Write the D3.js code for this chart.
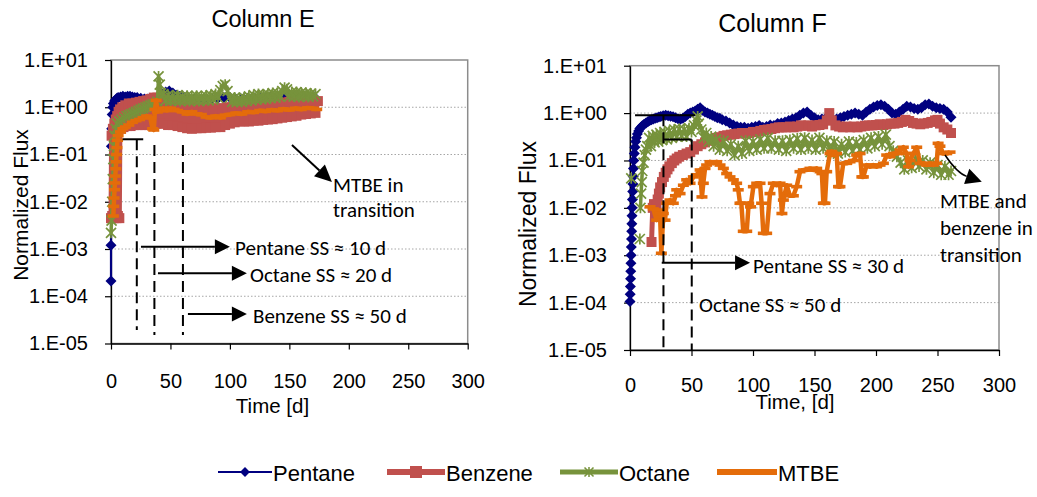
<!DOCTYPE html>
<html>
<head>
<meta charset="utf-8">
<script src="https://cdn.jsdelivr.net/npm/d3@7"></script>
<style>
  body { margin: 0; background: #fff; }
  svg { display: block; }
</style>
</head>
<body>
<svg id="chart" width="1037" height="497"></svg>
<script>
// ---- axis ticks ----
const xTickValues = [0, 50, 100, 150, 200, 250, 300];
const yTickValues = [1e-5, 1e-4, 1e-3, 1e-2, 1e-1, 1, 10];
const yTickLabels = ["1.E-05", "1.E-04", "1.E-03", "1.E-02", "1.E-01", "1.E+00", "1.E+01"];
const seriesNames = ["Pentane", "Benzene", "Octane", "MTBE"];

// ---- Column E: [day, normalized flux] ----
const ePentane = [[0,2.1e-4],[0,1.2e-3],[0.3,0.15],[0.6,0.35],[1,0.7],[1.5,1.0],[2,1.2],[3,1.35],[4,1.45],[5,1.55],[6,1.6],[8,1.65],[10,1.7],[12,1.65],[14,1.7],[16,1.7],[18,1.65],[20,1.6],[22,1.6],[25,1.55],[28,1.5],[31,1.5],[34,1.45],[37,1.5],[40,1.6],[43,1.9],[46,2.1],[49,2.2],[52,2.0],[55,1.8],[58,1.7],[62,1.6],[66,1.5],[70,1.5],[75,1.45],[80,1.5],[85,1.5],[90,1.55],[95,1.6],[100,1.6],[105,1.5],[110,1.5],[115,1.55],[120,1.6],[125,1.6],[130,1.65],[135,1.7],[140,1.7],[145,1.75],[150,1.8],[155,1.8],[160,1.75],[165,1.8],[170,1.75]];
const eBenzene = [[0,0.0045],[0.5,0.25],[1,0.005],[1.6,0.35],[2.2,0.0045],[2.8,0.45],[3.4,0.005],[4,0.55],[4.6,0.0045],[5.2,0.65],[5.8,0.005],[6.4,0.8],[7,0.0045],[7.6,0.9],[8.5,0.35],[9.5,1.0],[10.5,0.38],[12,1.1],[13.5,0.4],[15,1.2],[16.5,0.4],[18,1.2],[19.5,0.42],[21,1.25],[22.5,0.42],[24,1.3],[25.5,0.42],[27,1.35],[28.5,0.42],[30,1.4],[31.5,0.42],[33,1.5],[34.5,0.42],[36,1.6],[37.5,0.45],[39,1.6],[40.5,0.45],[42,1.5],[44,0.45],[46,1.4],[48,0.42],[50,1.35],[52,0.42],[54,1.25],[56,0.4],[58,1.2],[60,0.38],[62,1.15],[64,0.36],[66,1.1],[68,0.35],[70,1.05],[72,0.36],[74,1.0],[76,0.36],[78,1.0],[80,0.37],[82,0.95],[84,0.37],[86,0.95],[88,0.38],[90,0.95],[92,0.38],[94,0.95],[96,0.42],[98,1.0],[100,0.45],[102,1.0],[104,0.48],[106,1.05],[108,0.5],[110,1.05],[112,0.5],[114,1.1],[116,0.5],[118,1.1],[120,0.52],[122,1.1],[124,0.52],[126,1.15],[128,0.54],[130,1.15],[132,0.55],[134,1.2],[136,0.56],[138,1.2],[140,0.58],[142,1.25],[144,0.6],[146,1.25],[148,0.62],[150,1.3],[152,0.64],[154,1.3],[156,0.66],[158,1.35],[160,0.7],[162,1.35],[164,0.72],[166,1.4],[168,0.74],[170,1.4],[172,0.76],[174,1.35]];
const eOctane = [[0,0.0022],[0.5,0.004],[1,0.01],[1.5,0.03],[2,0.08],[2.5,0.15],[3,0.25],[4,0.35],[5,0.45],[7,0.5],[9,0.55],[11,0.6],[13,0.65],[15,0.68],[17,0.72],[19,0.75],[21,0.8],[23,0.85],[25,0.9],[27,0.95],[29,1.0],[31,1.05],[33,1.1],[35,1.15],[37,1.2],[39,1.3],[40,4.5],[41,3.0],[42,2.0],[44,1.9],[46,1.4],[48,1.8],[50,1.35],[52,1.75],[54,1.4],[56,1.8],[58,1.35],[60,1.7],[62,1.4],[64,1.75],[66,1.35],[68,1.7],[70,1.4],[72,1.75],[74,1.35],[76,1.7],[78,1.4],[80,1.75],[82,1.4],[84,1.8],[86,1.45],[88,1.9],[90,1.6],[92,2.3],[94,2.8],[96,3.0],[98,2.2],[100,1.6],[102,1.3],[104,1.6],[106,1.3],[108,1.55],[110,1.3],[112,1.6],[114,1.35],[116,1.7],[118,1.4],[120,1.8],[122,1.45],[124,1.9],[126,1.5],[128,1.85],[130,1.5],[132,1.9],[134,1.55],[136,2.0],[138,1.6],[140,2.0],[142,1.65],[144,2.2],[146,2.6],[148,2.4],[150,1.7],[152,2.1],[154,1.7],[156,2.1],[158,1.65],[160,2.05],[162,1.7],[164,2.0],[166,1.65],[168,1.95],[170,1.7],[172,1.9]];
const eMTBE = [[2,0.005],[2.3,0.008],[2.6,0.012],[3,0.018],[3.3,0.025],[3.6,0.035],[4,0.05],[4.3,0.07],[4.6,0.1],[5,0.14],[5.5,0.2],[6,0.25],[8,0.3],[10,0.35],[12,0.38],[15,0.42],[18,0.48],[21,0.52],[24,0.55],[27,0.6],[30,0.65],[33,0.6],[35,0.35],[36,0.33],[37,0.9],[38,1.4],[39,0.8],[41,0.85],[44,0.95],[47,0.85],[50,0.95],[53,0.9],[56,0.85],[60,0.8],[64,0.72],[68,0.8],[72,0.72],[76,0.7],[80,0.62],[84,0.6],[88,0.65],[92,0.6],[96,0.68],[100,0.7],[105,0.75],[110,0.72],[115,0.8],[120,0.78],[125,0.85],[130,0.82],[135,0.88],[140,0.85],[145,0.92],[150,0.88],[155,0.95],[160,0.9],[165,0.97],[170,0.95],[173,0.9]];

// ---- Column F: [day, normalized flux] ----
const fPentane = [[0,1.05e-4],[0.15,1.5e-4],[0.3,2.2e-4],[0.45,3.2e-4],[0.6,4.6e-4],[0.75,6.8e-4],[0.9,1e-3],[1.05,1.5e-3],[1.2,2.2e-3],[1.35,3.2e-3],[1.5,4.6e-3],[1.65,6.8e-3],[1.8,0.01],[2,0.015],[2.2,0.022],[2.4,0.032],[2.6,0.046],[2.8,0.068],[3.1,0.1],[3.5,0.14],[4,0.19],[4.6,0.25],[5.3,0.3],[6,0.36],[7,0.42],[8,0.47],[9,0.5],[10,0.54],[11.5,0.58],[13,0.62],[14.5,0.66],[16,0.7],[17.5,0.72],[19,0.75],[20.5,0.78],[22,0.8],[23.5,0.83],[25,0.85],[27,0.88],[29,0.9],[31,0.88],[33,0.86],[35,0.84],[37,0.8],[39,0.76],[41,0.74],[43,0.78],[45,0.85],[47,0.95],[49,1.0],[51,1.05],[53,1.1],[55,1.2],[57,1.3],[59,1.15],[61,1.05],[63,1.0],[65,0.95],[67,0.9],[69,0.85],[71,0.8],[73,0.78],[75,0.72],[78,0.68],[81,0.62],[84,0.56],[87,0.52],[90,0.5],[93,0.5],[96,0.48],[99,0.5],[102,0.52],[105,0.55],[108,0.5],[111,0.52],[114,0.56],[117,0.55],[120,0.6],[123,0.62],[126,0.65],[129,0.7],[132,0.75],[135,0.8],[138,0.9],[141,1.0],[144,1.05],[147,0.9],[150,0.8],[153,0.72],[156,0.75],[159,0.78],[162,0.74],[165,0.72],[168,0.75],[171,0.8],[174,0.85],[177,0.9],[180,0.95],[183,1.0],[186,0.95],[189,0.9],[192,1.05],[195,1.2],[198,1.35],[201,1.45],[204,1.5],[207,1.4],[210,1.2],[213,1.0],[216,0.95],[219,1.05],[222,1.2],[225,1.4],[228,1.35],[231,1.25],[234,1.2],[237,1.3],[240,1.5],[243,1.55],[246,1.4],[249,1.3],[252,1.25],[255,1.2],[258,1.05],[261,0.82]];
const fBenzene = [[17.5,1.9e-3],[18.5,0.01],[19.5,0.012],[20.5,0.008],[21.5,0.011],[22.5,0.015],[23.5,0.02],[24.5,0.027],[26,0.035],[27.5,0.045],[29,0.055],[30.5,0.065],[32,0.075],[34,0.088],[36,0.1],[38,0.11],[40,0.12],[43,0.13],[46,0.14],[49,0.15],[52,0.17],[55,0.2],[58,0.22],[61,0.24],[64,0.26],[67,0.28],[70,0.3],[73,0.31],[76,0.33],[79,0.34],[82,0.35],[85,0.36],[88,0.37],[91,0.38],[94,0.37],[97,0.38],[100,0.4],[103,0.4],[106,0.42],[109,0.44],[112,0.45],[115,0.46],[118,0.48],[121,0.5],[124,0.5],[127,0.5],[130,0.52],[133,0.5],[136,0.52],[139,0.55],[142,0.54],[145,0.55],[148,0.52],[151,0.55],[154,0.56],[157,0.58],[160,0.7],[162,1.0],[164,0.7],[167,0.55],[170,0.52],[173,0.5],[176,0.52],[179,0.5],[182,0.52],[185,0.5],[188,0.52],[191,0.54],[194,0.55],[197,0.55],[200,0.56],[203,0.58],[206,0.56],[209,0.58],[212,0.6],[215,0.6],[218,0.62],[221,0.65],[224,0.72],[227,0.68],[230,0.62],[233,0.6],[236,0.58],[239,0.6],[242,0.62],[245,0.65],[248,0.7],[250,0.72],[252,0.6],[255,0.5],[258,0.45],[261,0.38]];
const fOctane = [[1,0.042],[2,null],[8,0.0022],[8.3,null],[8.5,0.01],[9,0.02],[9.5,0.035],[10,0.06],[11,0.09],[12,0.13],[13,0.17],[14,0.2],[15.5,0.3],[17,0.2],[18.5,0.33],[20,0.24],[21.5,0.35],[23,0.25],[24.5,0.38],[26,0.27],[28,0.4],[30,0.28],[32,0.42],[34,0.3],[36,0.45],[38,0.32],[40,0.46],[42,0.33],[44,0.45],[46,0.32],[48,0.48],[50,0.4],[52,0.55],[54,0.7],[55,0.85],[56,0.6],[58,0.45],[60,0.3],[62,0.38],[64,0.25],[66,0.32],[68,0.2],[70,0.28],[73,0.17],[76,0.26],[79,0.16],[82,0.22],[85,0.13],[88,0.2],[91,0.14],[94,0.26],[97,0.16],[100,0.25],[103,0.17],[106,0.28],[109,0.18],[112,0.3],[115,0.18],[118,0.26],[121,0.17],[124,0.26],[127,0.16],[130,0.27],[133,0.18],[136,0.29],[139,0.17],[142,0.3],[145,0.18],[148,0.27],[151,0.17],[154,0.3],[157,0.18],[160,0.26],[163,0.15],[166,0.25],[169,0.14],[172,0.22],[175,0.15],[178,0.25],[181,0.16],[184,0.24],[187,0.17],[190,0.27],[193,0.18],[196,0.3],[199,0.2],[202,0.32],[205,0.22],[208,0.35],[211,0.2],[214,0.16],[217,0.12],[220,0.09],[223,0.065],[226,0.1],[229,0.07],[232,0.11],[235,0.075],[238,0.1],[241,0.065],[244,0.09],[247,0.055],[250,0.08],[253,0.05],[256,0.075],[259,0.05],[261,0.06]];
const fMTBE = [[16.3,0.0105],[18.9,0.0095],[21.7,0.0055],[22.5,0.009],[24.4,0.0076],[25.5,0.0011],[27.1,0.0076],[28.5,0.0055],[29.8,0.0125],[32.5,0.0146],[35.2,0.0125],[37,0.018],[38,0.024],[40.7,0.02],[43.4,0.03],[46.1,0.039],[48.8,0.033],[51.5,0.045],[54.2,0.05],[57,0.063],[58.5,0.017],[59.6,0.033],[61,0.068],[62.3,0.08],[65,0.094],[67.8,0.087],[70.5,0.094],[73.2,0.08],[75.9,0.068],[78.6,0.053],[81.3,0.045],[84,0.039],[86.7,0.033],[88,0.024],[89.4,0.0125],[90.5,0.0125],[92.1,0.0032],[94.9,0.0032],[96.5,0.0125],[98,0.0105],[100.3,0.028],[103,0.033],[105.7,0.033],[107,0.0125],[108.4,0.0029],[111.1,0.0029],[113.8,0.02],[116.5,0.033],[119.2,0.03],[122,0.033],[123.5,0.0076],[124.7,0.0146],[127.4,0.03],[130,0.018],[132.8,0.018],[135.5,0.028],[138.2,0.058],[140.9,0.063],[143.6,0.063],[146.3,0.068],[149.1,0.063],[151.8,0.068],[154.5,0.058],[156,0.053],[157.2,0.0125],[158.5,0.0125],[159.9,0.058],[162.6,0.14],[164,0.155],[165.3,0.13],[168,0.14],[169.5,0.028],[170.7,0.028],[173.4,0.087],[176.2,0.087],[178.9,0.094],[181.6,0.1],[184.3,0.13],[187,0.14],[188.5,0.045],[189.7,0.045],[192.4,0.08],[195.1,0.074],[197.8,0.08],[200.5,0.074],[203.3,0.08],[206,0.087],[208.7,0.13],[211.4,0.12],[214.1,0.14],[216.8,0.14],[219.5,0.166],[222.2,0.19],[224.9,0.14],[226.5,0.074],[227.6,0.1],[230.4,0.14],[233.1,0.19],[235.8,0.087],[238.5,0.087],[241.2,0.08],[243.9,0.087],[246.6,0.08],[249.3,0.087],[250.5,0.23],[252,0.2],[254.7,0.14],[257.5,0.14],[260.2,0.15]];

// ---- series styling ----
const seriesStyle = {
  Pentane: { color: "#000080", width: 2.2, marker: "diamond" },
  Benzene: { color: "#C0504D", width: 5,   marker: "square" },
  Octane:  { color: "#77933C", width: 3.5, marker: "star" },
  MTBE:    { color: "#E46C0A", width: 4.5, marker: "dash" }
};
const markerPath = {
  diamond: "M0,-5.5L5.5,0L0,5.5L-5.5,0Z",
  square: "M-5,-5H5V5H-5Z",
  star: "M-5,-5L5,5M-5,5L5,-5M0,-5.5V5.5",
  dash: "M-5.5,-1.8H5.5V1.8H-5.5Z"
};

const sansFont = "'Liberation Sans', Arial, Helvetica, sans-serif";
const noteFont = "Carlito, Calibri, Lato, 'Open Sans', sans-serif";

const panels = [
  {
    title: "Column E", titleX: 263, titleY: 27, titleSize: 23.5,
    x0: 111, x1: 467.7, yTop: 60, yBot: 343.5,
    xTickPad: 24, xLabel: "Time [d]", xLabelX: 272.5, xLabelY: 413,
    yLabelX: 28, yLabelY: 205, yLabelSize: 21,
    series: { Pentane: ePentane, Benzene: eBenzene, Octane: eOctane, MTBE: eMTBE }
  },
  {
    title: "Column F", titleX: 772.5, titleY: 32, titleSize: 25,
    x0: 630, x1: 999, yTop: 65.7, yBot: 350,
    xTickPad: 21.5, xLabel: "Time, [d]", xLabelX: 795, xLabelY: 409,
    yLabelX: 536, yLabelY: 224, yLabelSize: 23,
    series: { Pentane: fPentane, Benzene: fBenzene, Octane: fOctane, MTBE: fMTBE }
  }
];

const svg = d3.select("#chart");
svg.append("rect").attr("width", 1037).attr("height", 497).attr("fill", "#fff");

function arrowHead(g, x1, y1, x2, y2, len, half) {
  const a = Math.atan2(y2 - y1, x2 - x1);
  const bx = x2 - len * Math.cos(a), by = y2 - len * Math.sin(a);
  const px = -Math.sin(a) * half, py = Math.cos(a) * half;
  g.append("path")
    .attr("d", `M${x2},${y2}L${bx + px},${by + py}L${bx - px},${by - py}Z`)
    .attr("fill", "#000");
  return [bx, by];
}
function arrow(g, x1, y1, x2, y2, len, half, w) {
  const [bx, by] = arrowHead(g, x1, y1, x2, y2, len, half);
  g.append("line").attr("x1", x1).attr("y1", y1).attr("x2", bx).attr("y2", by)
    .attr("stroke", "#000").attr("stroke-width", w || 2);
}
function note(g, x, y, lines, size, lh) {
  const t = g.append("text").attr("x", x).attr("y", y)
    .attr("font-family", noteFont).attr("font-size", size).attr("fill", "#000");
  lines.forEach((s, i) => t.append("tspan").attr("x", x).attr("dy", i ? lh : 0).text(s));
}

panels.forEach(p => {
  const g = svg.append("g");
  const x = d3.scaleLinear().domain([0, 300]).range([p.x0, p.x1]);
  const y = d3.scaleLog().domain([1e-5, 10]).range([p.yBot, p.yTop]);
  p.x = x; p.y = y;

  // horizontal gridlines
  g.selectAll("line.grid").data(yTickValues.slice(1, -1)).join("line")
    .attr("x1", p.x0).attr("x2", p.x1)
    .attr("y1", d => y(d)).attr("y2", d => y(d))
    .attr("stroke", "#a6a6a6").attr("stroke-width", 1).attr("stroke-dasharray", "1.5,2");

  // plot-area frame
  g.append("rect").attr("x", p.x0).attr("y", p.yTop)
    .attr("width", p.x1 - p.x0).attr("height", p.yBot - p.yTop)
    .attr("fill", "none").attr("stroke", "#8c8c8c").attr("stroke-width", 1.5);

  // axes
  const ya = g.append("g").attr("transform", `translate(${p.x0},0)`)
    .call(d3.axisLeft(y).tickValues(yTickValues).tickFormat((d, i) => yTickLabels[i])
      .tickSize(6).tickSizeOuter(0).tickPadding(17));
  const xa = g.append("g").attr("transform", `translate(0,${p.yBot})`)
    .call(d3.axisBottom(x).tickValues(xTickValues).tickFormat(d3.format("d"))
      .tickSize(6).tickSizeOuter(0).tickPadding(p.xTickPad));
  [ya, xa].forEach(a => {
    a.select(".domain").attr("stroke", "#000").attr("stroke-width", 1.3);
    a.selectAll(".tick line").attr("stroke", "#000").attr("stroke-width", 1.2);
    a.selectAll(".tick text").attr("font-family", sansFont).attr("font-size", 20).attr("fill", "#000");
  });

  // titles
  g.append("text").attr("x", p.titleX).attr("y", p.titleY).attr("text-anchor", "middle")
    .attr("font-family", sansFont).attr("font-size", p.titleSize).text(p.title);
  g.append("text").attr("x", p.xLabelX).attr("y", p.xLabelY).attr("text-anchor", "middle")
    .attr("font-family", sansFont).attr("font-size", 20.5).text(p.xLabel);
  g.append("text").attr("transform", `translate(${p.yLabelX},${p.yLabelY}) rotate(-90)`)
    .attr("text-anchor", "middle").attr("font-family", sansFont)
    .attr("font-size", p.yLabelSize).text("Normalized Flux");

  // series, drawn in legend order so later ones sit on top
  const line = d3.line().defined(d => d[1] != null).x(d => x(d[0])).y(d => y(d[1]));
  seriesNames.forEach(name => {
    const st = seriesStyle[name];
    const data = p.series[name];
    const sg = g.append("g");
    sg.append("path").attr("d", line(data)).attr("fill", "none")
      .attr("stroke", st.color).attr("stroke-width", st.width).attr("stroke-linejoin", "round");
    const pts = sg.selectAll("path.m").data(data.filter(d => d[1] != null)).join("path")
      .attr("d", markerPath[st.marker])
      .attr("transform", d => `translate(${x(d[0])},${y(d[1])})`);
    if (st.marker === "star") pts.attr("fill", "none").attr("stroke", st.color).attr("stroke-width", 1.7);
    else pts.attr("fill", st.color);
  });
});

// ---- annotations, Column E ----
{
  const p = panels[0], x = p.x, y = p.y, g = svg.append("g");
  const dash = "11,6";
  g.append("line").attr("x1", x(9.8)).attr("x2", x(27.1)).attr("y1", y(0.21)).attr("y2", y(0.21))
    .attr("stroke", "#000").attr("stroke-width", 2);
  [[21.7, 0.21, 1.93e-5], [36.5, 0.159, 1.51e-5], [60.5, 0.159, 1.51e-5]].forEach(([d, a, b]) =>
    g.append("line").attr("x1", x(d)).attr("x2", x(d)).attr("y1", y(a)).attr("y2", y(b))
      .attr("stroke", "#000").attr("stroke-width", 2).attr("stroke-dasharray", dash));
  arrow(g, x(25.2), y(1.12e-3), x(100), y(1.12e-3), 15, 7.5);
  arrow(g, x(39.5), y(3.06e-4), x(114.3), y(3.06e-4), 15, 7.5);
  arrow(g, x(64.7), y(4.2e-5), x(114.3), y(4.2e-5), 15, 7.5);
  arrow(g, x(152.2), y(0.159), x(185.8), y(0.0262), 17, 8);
  note(g, x(104.3), y(7.3e-4), ["Pentane SS \u2248 10 d"], 21, 0);
  note(g, x(116.9), y(2.03e-4), ["Octane SS \u2248 20 d"], 21, 0);
  note(g, x(119.4), y(2.72e-5), ["Benzene SS \u2248 50 d"], 21, 0);
  note(g, x(186.7), y(0.0161), ["MTBE in", "transition"], 21, 25);
}

// ---- annotations, Column F ----
{
  const p = panels[1], x = p.x, y = p.y, g = svg.append("g");
  const dash = "11,6";
  g.append("line").attr("x1", x(4.1)).attr("x2", x(52.8)).attr("y1", y(0.899)).attr("y2", y(0.899))
    .attr("stroke", "#000").attr("stroke-width", 2);
  g.append("line").attr("x1", x(27.2)).attr("x2", x(50.2)).attr("y1", y(0.277)).attr("y2", y(0.277))
    .attr("stroke", "#000").attr("stroke-width", 2);
  [[27.2, 0.899], [50.2, 0.277]].forEach(([d, a]) =>
    g.append("line").attr("x1", x(d)).attr("x2", x(d)).attr("y1", y(a)).attr("y2", y(1e-5))
      .attr("stroke", "#000").attr("stroke-width", 2).attr("stroke-dasharray", dash));
  arrow(g, x(25.8), y(6.96e-4), x(97.6), y(6.96e-4), 15, 7.5);
  note(g, x(100), y(4.16e-4), ["Pentane SS \u2248 30 d"], 21, 0);
  note(g, x(56.1), y(6.43e-5), ["Octane SS \u2248 50 d"], 21, 0);
  note(g, x(252), y(9.8e-3), ["MTBE and", "benzene in", "transition"], 21, 26.7);
  // curved pointer
  const sx = x(256.1), sy = y(0.1306), tx = x(286), ty = y(0.0357);
  const cx = sx + 12, cy = sy + 18;
  const [bx, by] = arrowHead(g, cx, cy, tx, ty, 16, 8);
  g.append("path").attr("d", `M${sx},${sy}Q${cx},${cy} ${bx},${by}`)
    .attr("fill", "none").attr("stroke", "#000").attr("stroke-width", 1.5);
}

// ---- legend ----
{
  const g = svg.append("g");
  const items = [
    { name: "Pentane", x1: 218, x2: 272, lw: 2 },
    { name: "Benzene", x1: 387, x2: 445, lw: 6 },
    { name: "Octane",  x1: 560, x2: 618, lw: 5 },
    { name: "MTBE",    x1: 717, x2: 777, lw: 6 }
  ];
  const ly = 472;
  items.forEach(it => {
    const st = seriesStyle[it.name];
    g.append("line").attr("x1", it.x1).attr("x2", it.x2).attr("y1", ly).attr("y2", ly)
      .attr("stroke", st.color).attr("stroke-width", it.lw);
    if (st.marker !== "dash") {
      const m = g.append("path").attr("d", markerPath[st.marker])
        .attr("transform", `translate(${(it.x1 + it.x2) / 2},${ly}) scale(${st.marker === "square" ? 1.2 : 0.9})`);
      if (st.marker === "star") m.attr("fill", "none").attr("stroke", st.color).attr("stroke-width", 1.7);
      else m.attr("fill", st.color);
    }
    g.append("text").attr("x", it.x2 + 1).attr("y", 481)
      .attr("font-family", sansFont).attr("font-size", 22).attr("fill", "#000").text(it.name);
  });
}
</script>
</body>
</html>
